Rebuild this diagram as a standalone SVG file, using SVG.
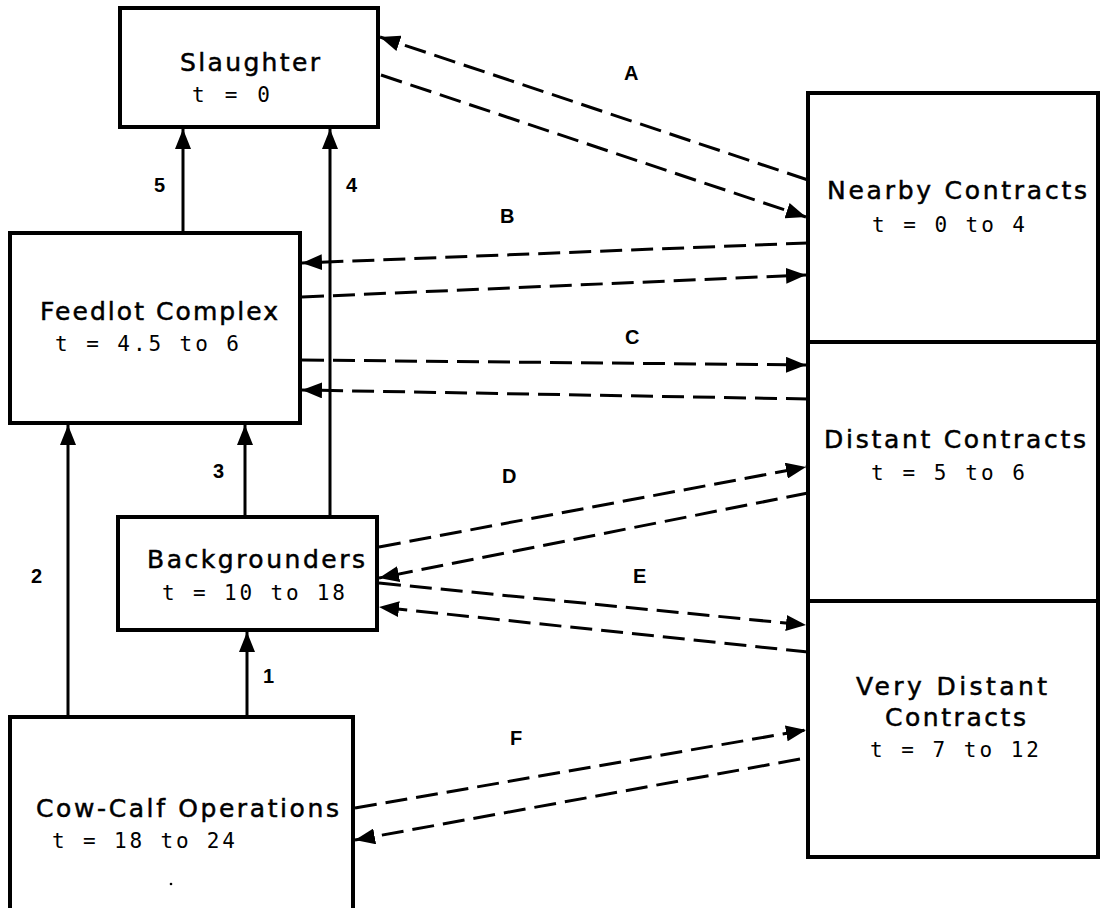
<svg xmlns="http://www.w3.org/2000/svg" width="1101" height="908" viewBox="0 0 1101 908">
<defs>
<style>
.box{fill:none;stroke:#000;stroke-width:4}
.name{font-family:"DejaVu Sans",sans-serif;font-size:25px;fill:#000;stroke:#000;stroke-width:0.5}
.t{font-family:"DejaVu Sans Mono",monospace;font-size:21px;fill:#000}
.lbl{font-family:"Liberation Sans",Arial,sans-serif;font-weight:bold;font-size:20px;fill:#000}
.solid{fill:none;stroke:#000;stroke-width:3}
.dash{fill:none;stroke:#000;stroke-width:3;stroke-dasharray:22,9}
</style>
<marker id="ah" viewBox="0 0 10 10" refX="10" refY="5" markerWidth="20" markerHeight="16" markerUnits="userSpaceOnUse" orient="auto" preserveAspectRatio="none">
<path d="M0,0 L10,5 L0,10 z" fill="#000"/>
</marker>
</defs>
<rect width="1101" height="908" fill="#fff"/>

<g id="slaughter">
<rect class="box" x="120" y="8" width="258" height="119"/>
<text class="name" x="180" y="71" textLength="140" lengthAdjust="spacing">Slaughter</text>
<text class="t" x="192" y="102" textLength="78" lengthAdjust="spacing">t = 0</text>
</g>

<g id="nearby">
<rect class="box" x="808" y="93" width="290" height="249"/>
<text class="name" x="827" y="199" textLength="260" lengthAdjust="spacing">Nearby Contracts</text>
<text class="t" x="872" y="232" textLength="153" lengthAdjust="spacing">t = 0 to 4</text>
</g>

<g id="distant">
<rect class="box" x="808" y="342" width="290" height="259"/>
<text class="name" x="824" y="448" textLength="262" lengthAdjust="spacing">Distant Contracts</text>
<text class="t" x="871" y="480" textLength="154" lengthAdjust="spacing">t = 5 to 6</text>
</g>

<g id="verydistant">
<rect class="box" x="808" y="601" width="290" height="256"/>
<text class="name" x="856" y="695" textLength="191" lengthAdjust="spacing">Very Distant</text>
<text class="name" x="885" y="726" textLength="141" lengthAdjust="spacing">Contracts</text>
<text class="t" x="870" y="757" textLength="169" lengthAdjust="spacing">t = 7 to 12</text>
</g>

<g id="feedlot">
<rect class="box" x="10" y="233" width="290" height="190"/>
<text class="name" x="40" y="320" textLength="238" lengthAdjust="spacing">Feedlot Complex</text>
<text class="t" x="55" y="351" textLength="184" lengthAdjust="spacing">t = 4.5 to 6</text>
</g>

<g id="backgrounders">
<rect class="box" x="118" y="517" width="259" height="113"/>
<text class="name" x="147" y="568" textLength="218" lengthAdjust="spacing">Backgrounders</text>
<text class="t" x="162" y="600" textLength="183" lengthAdjust="spacing">t = 10 to 18</text>
</g>

<g id="cowcalf">
<rect class="box" x="10" y="717" width="343" height="200"/>
<text class="name" x="36" y="817" textLength="303" lengthAdjust="spacing">Cow-Calf Operations</text>
<text class="t" x="52" y="848" textLength="183" lengthAdjust="spacing">t = 18 to 24</text>
<circle cx="171" cy="884" r="1.3" fill="#000"/>
</g>

<g id="connectors">
<line class="solid" x1="183" y1="233" x2="183" y2="129" marker-end="url(#ah)"/>
<line class="solid" x1="330" y1="517" x2="330" y2="129" marker-end="url(#ah)"/>
<line class="solid" x1="245" y1="517" x2="245" y2="425" marker-end="url(#ah)"/>
<line class="solid" x1="68" y1="717" x2="68" y2="425" marker-end="url(#ah)"/>
<line class="solid" x1="247" y1="717" x2="247" y2="632" marker-end="url(#ah)"/>

<line class="dash" x1="808" y1="180" x2="380" y2="37" marker-end="url(#ah)"/>
<line class="dash" x1="381" y1="75" x2="806" y2="217" marker-end="url(#ah)"/>
<line class="dash" x1="808" y1="243" x2="302" y2="263" marker-end="url(#ah)"/>
<line class="dash" x1="302" y1="297" x2="806" y2="275" marker-end="url(#ah)"/>
<line class="dash" x1="302" y1="360" x2="806" y2="365" marker-end="url(#ah)"/>
<line class="dash" x1="808" y1="399" x2="302" y2="390" marker-end="url(#ah)"/>
<line class="dash" x1="379" y1="547" x2="806" y2="467" marker-end="url(#ah)"/>
<line class="dash" x1="808" y1="493" x2="379" y2="578" marker-end="url(#ah)"/>
<line class="dash" x1="379" y1="583" x2="806" y2="625" marker-end="url(#ah)"/>
<line class="dash" x1="808" y1="652" x2="379" y2="607" marker-end="url(#ah)"/>
<line class="dash" x1="355" y1="808" x2="806" y2="730" marker-end="url(#ah)"/>
<line class="dash" x1="800" y1="759" x2="355" y2="840" marker-end="url(#ah)"/>
</g>

<g id="labels">
<text class="lbl" x="154" y="192">5</text>
<text class="lbl" x="346" y="192">4</text>
<text class="lbl" x="213" y="478">3</text>
<text class="lbl" x="31" y="583">2</text>
<text class="lbl" x="263" y="683">1</text>
<text class="lbl" x="624" y="80">A</text>
<text class="lbl" x="500" y="223">B</text>
<text class="lbl" x="625" y="344">C</text>
<text class="lbl" x="502" y="483">D</text>
<text class="lbl" x="633" y="583">E</text>
<text class="lbl" x="510" y="745">F</text>
</g>
</svg>
